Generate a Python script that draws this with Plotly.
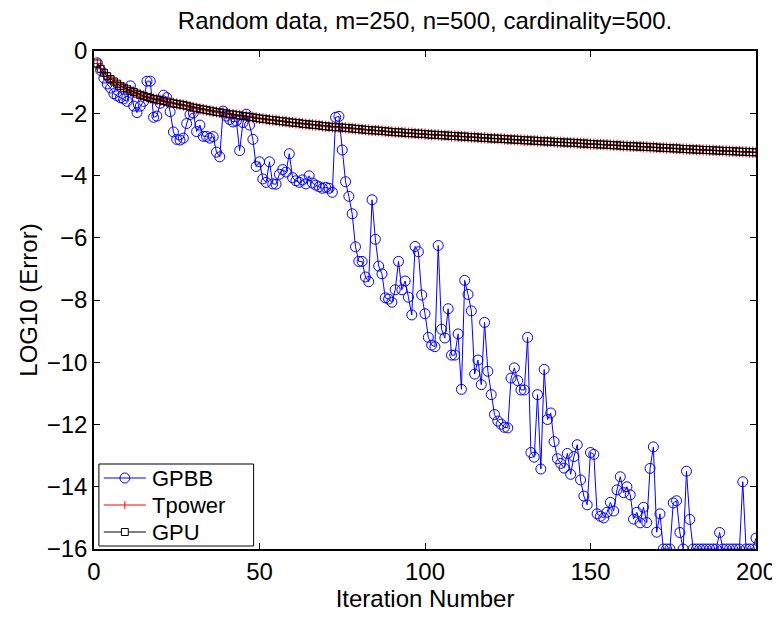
import plotly.graph_objects as go

iterations = list(range(1, 201))

gpbb_vals = [
    -0.38, -0.62, -0.87, -1.06, -1.19, -1.37, -1.44, -1.50, -1.54, -1.62,
    -1.12, -1.77, -1.98, -1.77, -1.62, -0.97, -0.97, -2.13, -2.09, -1.68,
    -1.42, -1.50, -1.95, -2.60, -2.84, -2.86, -2.80, -2.33, -2.04, -1.99,
    -2.59, -2.38, -2.74, -2.74, -2.80, -2.75, -3.25, -3.40, -1.93, -2.09,
    -2.20, -2.28, -2.25, -3.20, -2.30, -2.03, -2.38, -2.84, -3.71, -3.56,
    -4.11, -4.22, -3.56, -4.27, -4.28, -3.96, -3.81, -3.89, -3.30, -4.07,
    -4.17, -4.22, -4.14, -4.27, -4.01, -4.24, -4.31, -4.36, -4.41, -4.38,
    -4.41, -4.54, -2.13, -2.10, -3.18, -4.20, -4.67, -5.23, -6.29, -6.76,
    -6.76, -7.26, -7.41, -4.78, -6.05, -6.91, -7.16, -7.93, -7.97, -8.07,
    -7.67, -6.76, -7.67, -7.39, -7.91, -8.48, -6.28, -6.45, -7.84, -8.44,
    -9.20, -9.45, -9.50, -6.25, -8.94, -9.22, -8.28, -9.77, -9.77, -9.09,
    -10.87, -7.37, -7.82, -8.35, -10.38, -9.93, -10.72, -8.72, -10.29, -11.04,
    -11.68, -11.89, -11.99, -12.09, -12.11, -10.51, -10.18, -10.59, -10.89, -10.89,
    -9.20, -12.90, -13.05, -11.04, -13.43, -10.23, -11.84, -11.63, -12.55, -13.10,
    -13.25, -13.40, -12.93, -13.60, -13.03, -12.65, -13.78, -14.30, -14.58, -12.90,
    -12.96, -14.87, -14.95, -15.00, -14.82, -14.50, -14.78, -14.10, -13.68, -14.19,
    -14.00, -14.26, -15.04, -14.82, -15.16, -14.66, -15.15, -13.41, -12.72, -15.46,
    -14.87, -16.00, -16.00, -16.00, -14.52, -14.45, -15.47, -16.00, -13.50, -15.05,
    -16.00, -16.00, -16.00, -16.00, -16.00, -16.00, -16.00, -16.00, -15.47, -16.00,
    -16.00, -16.00, -16.00, -16.00, -16.00, -13.84, -16.00, -16.00, -16.00, -15.65,
]

gpu_vals = [
    -0.40, -0.57, -0.70, -0.81, -0.90, -0.98, -1.05, -1.12, -1.18, -1.23,
    -1.28, -1.32, -1.37, -1.41, -1.45, -1.48, -1.51, -1.54, -1.56, -1.58,
    -1.61, -1.63, -1.66, -1.68, -1.70, -1.72, -1.74, -1.76, -1.79, -1.82,
    -1.84, -1.86, -1.88, -1.90, -1.92, -1.94, -1.96, -1.97, -1.99, -2.01,
    -2.03, -2.04, -2.06, -2.07, -2.09, -2.10, -2.12, -2.13, -2.15, -2.17,
    -2.18, -2.19, -2.21, -2.22, -2.23, -2.25, -2.26, -2.27, -2.29, -2.30,
    -2.31, -2.32, -2.34, -2.35, -2.36, -2.37, -2.38, -2.39, -2.41, -2.42,
    -2.43, -2.44, -2.45, -2.45, -2.46, -2.47, -2.48, -2.49, -2.50, -2.51,
    -2.52, -2.53, -2.54, -2.55, -2.55, -2.56, -2.57, -2.58, -2.59, -2.60,
    -2.61, -2.61, -2.62, -2.63, -2.64, -2.64, -2.65, -2.66, -2.66, -2.67,
    -2.68, -2.69, -2.69, -2.70, -2.71, -2.71, -2.72, -2.73, -2.73, -2.74,
    -2.75, -2.75, -2.76, -2.77, -2.77, -2.78, -2.79, -2.79, -2.80, -2.81,
    -2.81, -2.82, -2.82, -2.83, -2.84, -2.84, -2.85, -2.85, -2.86, -2.87,
    -2.87, -2.88, -2.88, -2.89, -2.90, -2.90, -2.91, -2.91, -2.92, -2.93,
    -2.93, -2.94, -2.94, -2.95, -2.95, -2.96, -2.97, -2.97, -2.98, -2.99,
    -2.99, -3.00, -3.00, -3.01, -3.01, -3.02, -3.03, -3.03, -3.04, -3.05,
    -3.05, -3.06, -3.06, -3.07, -3.07, -3.08, -3.08, -3.09, -3.09, -3.10,
    -3.11, -3.11, -3.12, -3.12, -3.13, -3.13, -3.14, -3.15, -3.15, -3.16,
    -3.16, -3.17, -3.17, -3.18, -3.18, -3.19, -3.19, -3.20, -3.20, -3.21,
    -3.21, -3.22, -3.22, -3.23, -3.23, -3.24, -3.24, -3.25, -3.25, -3.26,
]

tpower_vals = [
    -0.40, -0.57, -0.70, -0.81, -0.90, -0.98, -1.05, -1.12, -1.18, -1.23,
    -1.28, -1.32, -1.37, -1.41, -1.45, -1.48, -1.51, -1.54, -1.56, -1.58,
    -1.61, -1.63, -1.66, -1.68, -1.70, -1.72, -1.74, -1.76, -1.79, -1.82,
    -1.84, -1.86, -1.88, -1.90, -1.92, -1.94, -1.96, -1.97, -1.99, -2.01,
    -2.03, -2.04, -2.06, -2.07, -2.09, -2.10, -2.12, -2.13, -2.15, -2.17,
    -2.18, -2.19, -2.21, -2.22, -2.23, -2.25, -2.26, -2.27, -2.29, -2.30,
    -2.31, -2.32, -2.34, -2.35, -2.36, -2.37, -2.38, -2.39, -2.41, -2.42,
    -2.43, -2.44, -2.45, -2.45, -2.46, -2.47, -2.48, -2.49, -2.50, -2.51,
    -2.52, -2.53, -2.54, -2.55, -2.55, -2.56, -2.57, -2.58, -2.59, -2.60,
    -2.61, -2.61, -2.62, -2.63, -2.64, -2.64, -2.65, -2.66, -2.66, -2.67,
    -2.68, -2.69, -2.69, -2.70, -2.71, -2.71, -2.72, -2.73, -2.73, -2.74,
    -2.75, -2.75, -2.76, -2.77, -2.77, -2.78, -2.79, -2.79, -2.80, -2.81,
    -2.81, -2.82, -2.82, -2.83, -2.84, -2.84, -2.85, -2.85, -2.86, -2.87,
    -2.87, -2.88, -2.88, -2.89, -2.90, -2.90, -2.91, -2.91, -2.92, -2.93,
    -2.93, -2.94, -2.94, -2.95, -2.95, -2.96, -2.97, -2.97, -2.98, -2.99,
    -2.99, -3.00, -3.00, -3.01, -3.01, -3.02, -3.03, -3.03, -3.04, -3.05,
    -3.05, -3.06, -3.06, -3.07, -3.07, -3.08, -3.08, -3.09, -3.09, -3.10,
    -3.11, -3.11, -3.12, -3.12, -3.13, -3.13, -3.14, -3.15, -3.15, -3.16,
    -3.16, -3.17, -3.17, -3.18, -3.18, -3.19, -3.19, -3.20, -3.20, -3.21,
    -3.21, -3.22, -3.22, -3.23, -3.23, -3.24, -3.24, -3.25, -3.25, -3.26,
]

series_names = ["GPBB", "Tpower", "GPU"]
series_colors = ["#0000ff", "#ff0000", "#000000"]

x_ticks = [0, 50, 100, 150, 200]
y_ticks = [-16, -14, -12, -10, -8, -6, -4, -2, 0]

FONT = "Liberation Sans, Arial, Helvetica, sans-serif"

W, H = 780, 640
ML, MR, MT, MB = 86, 18, 43, 99
PW, PH = W - ML - MR, H - MT - MB


def px_x(px):
    return (px - ML) / PW


def px_y(py):
    return (H - MB - py) / PH


fig = go.Figure()
fig.add_trace(go.Scatter(
    x=iterations, y=gpbb_vals, name=series_names[0], mode="lines+markers",
    line=dict(color=series_colors[0], width=1),
    marker=dict(symbol="circle-open", size=10, color=series_colors[0], line=dict(width=1)),
))
fig.add_trace(go.Scatter(
    x=iterations, y=tpower_vals, name=series_names[1], mode="lines+markers",
    line=dict(color=series_colors[1], width=1),
    marker=dict(symbol="cross-thin-open", size=8, color=series_colors[1], line=dict(width=1, color=series_colors[1])),
))
fig.add_trace(go.Scatter(
    x=iterations, y=gpu_vals, name=series_names[2], mode="lines+markers",
    line=dict(color=series_colors[2], width=1),
    marker=dict(symbol="square-open", size=7, color=series_colors[2], line=dict(width=1)),
))

# ---- custom legend box (MATLAB style) ----
box_l, box_r = ML + 5, ML + 163
box_b = H - MB - 3
box_t = box_b - 82
row_y = [box_t + 14, box_t + 41, box_t + 68]
line_x0, line_x1 = box_l + 5, box_l + 48
mk_x = (line_x0 + line_x1) / 2
text_x = box_l + 53

shapes = [dict(type="rect", xref="paper", yref="paper",
               x0=px_x(box_l), x1=px_x(box_r), y0=px_y(box_b), y1=px_y(box_t),
               line=dict(color="black", width=1), fillcolor="white", layer="above")]
annotations = []
for i, (nm, col) in enumerate(zip(series_names, series_colors)):
    yy = row_y[i]
    shapes.append(dict(type="line", xref="paper", yref="paper",
                       x0=px_x(line_x0), x1=px_x(line_x1), y0=px_y(yy), y1=px_y(yy),
                       line=dict(color=col, width=1), layer="above"))
    if nm == "GPBB":
        r = 5
        shapes.append(dict(type="circle", xref="paper", yref="paper",
                           x0=px_x(mk_x - r), x1=px_x(mk_x + r), y0=px_y(yy + r), y1=px_y(yy - r),
                           line=dict(color=col, width=1), fillcolor="rgba(0,0,0,0)", layer="above"))
    elif nm == "Tpower":
        r = 4
        shapes.append(dict(type="line", xref="paper", yref="paper",
                           x0=px_x(mk_x), x1=px_x(mk_x), y0=px_y(yy + r), y1=px_y(yy - r),
                           line=dict(color=col, width=1), layer="above"))
    else:
        r = 3.5
        shapes.append(dict(type="rect", xref="paper", yref="paper",
                           x0=px_x(mk_x - r), x1=px_x(mk_x + r), y0=px_y(yy + r), y1=px_y(yy - r),
                           line=dict(color=col, width=1), fillcolor="white", layer="above"))
    annotations.append(dict(text=nm, xref="paper", yref="paper",
                            x=px_x(text_x), y=px_y(yy), xanchor="left", yanchor="middle",
                            showarrow=False, borderpad=0,
                            font=dict(family=FONT, size=22, color="black")))

axis_common = dict(
    showline=True, linecolor="black", linewidth=1.5, mirror="ticks",
    ticks="inside", ticklen=6, tickcolor="black", tickwidth=1,
    showgrid=False, zeroline=False, ticklabeloverflow="allow",
    tickfont=dict(family=FONT, size=24, color="black"),
)

fig.update_layout(
    width=W, height=H,
    paper_bgcolor="white", plot_bgcolor="white",
    margin=dict(l=ML, r=MR, t=MT, b=MB),
    title=dict(text="Random data, m=250, n=500, cardinality=500.",
               xref="paper", x=0.5, xanchor="center",
               yref="container", y=1 - 13 / H, yanchor="middle",
               font=dict(family=FONT, size=24, color="black")),
    xaxis=dict(range=[0, 200], tickvals=x_ticks,
               title=dict(text="Iteration Number", font=dict(family=FONT, size=24, color="black"), standoff=0),
               **axis_common),
    yaxis=dict(range=[-16, 0], tickvals=y_ticks,
               title=dict(text="LOG10 (Error)", font=dict(family=FONT, size=24, color="black"), standoff=2),
               **axis_common),
    showlegend=False,
    shapes=shapes,
    annotations=annotations,
)

fig.write_html("out.html")
